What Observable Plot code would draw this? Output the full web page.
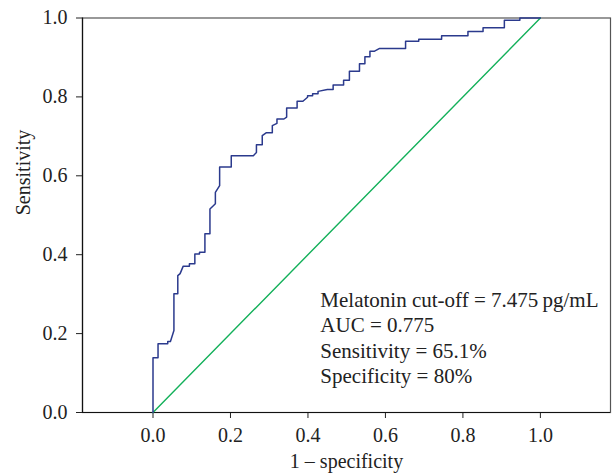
<!DOCTYPE html>
<html><head><meta charset="utf-8">
<script src="https://cdn.jsdelivr.net/npm/d3@7"></script>
<script src="https://cdn.jsdelivr.net/npm/@observablehq/plot@0.6"></script>
<style>body{margin:0;background:#fff} svg{display:block}</style>
</head><body><div id="chart"></div>
<script>
// ROC curve points (1 - specificity, sensitivity)
const fpr = [0,0,0.013,0.013,0.038,0.038,0.045,0.054,0.054,0.064,0.064,0.070,0.078,0.094,0.094,0.108,0.108,0.120,0.120,0.134,0.134,0.147,0.147,0.161,0.161,0.172,0.172,0.202,0.202,0.259,0.267,0.267,0.282,0.282,0.292,0.308,0.308,0.320,0.320,0.338,0.345,0.345,0.372,0.372,0.387,0.399,0.399,0.412,0.412,0.426,0.426,0.450,0.465,0.465,0.492,0.492,0.507,0.507,0.533,0.533,0.547,0.547,0.560,0.560,0.572,0.585,0.652,0.652,0.686,0.686,0.745,0.745,0.813,0.813,0.852,0.852,0.907,0.907,0.947,0.947,1.0];
const tpr = [0,0.139,0.139,0.174,0.174,0.180,0.180,0.208,0.301,0.301,0.347,0.352,0.371,0.371,0.377,0.377,0.402,0.402,0.406,0.406,0.453,0.453,0.516,0.529,0.558,0.575,0.622,0.622,0.651,0.651,0.659,0.679,0.679,0.702,0.709,0.709,0.727,0.733,0.744,0.744,0.749,0.772,0.772,0.789,0.789,0.799,0.803,0.803,0.808,0.808,0.814,0.819,0.819,0.830,0.830,0.842,0.842,0.865,0.865,0.884,0.884,0.902,0.902,0.916,0.916,0.923,0.923,0.941,0.941,0.946,0.946,0.955,0.955,0.966,0.966,0.975,0.975,0.994,0.994,1.0,1.0];
const refX = [0, 1];
const refY = [0, 1];
const xTicks = [0, 0.2, 0.4, 0.6, 0.8, 1.0];
const yTicks = [0, 0.2, 0.4, 0.6, 0.8, 1.0];
const xDomain = [-0.182, 1.181];
const yDomain = [0, 1];
const legendLines = ["Melatonin cut-off = 7.475\u2009pg/mL", "AUC = 0.775", "Sensitivity = 65.1%", "Specificity = 80%"];
const xLabel = "1 \u2013 specificity";
const yLabel = "Sensitivity";

const roc = fpr.map((x, i) => ({x, y: tpr[i]}));
const ref = refX.map((x, i) => ({x, y: refY[i]}));

const chart = Plot.plot({
  width: 613, height: 474,
  marginLeft: 82, marginRight: 3, marginTop: 17.5, marginBottom: 62,
  style: {fontFamily: "'Liberation Serif', 'Times New Roman', serif", fontSize: "20px", color: "#222", background: "#fff"},
  x: {domain: xDomain, ticks: xTicks, tickFormat: d3.format(".1f"), tickSize: 6, tickPadding: 9, label: null},
  y: {domain: yDomain, ticks: yTicks, tickFormat: d3.format(".1f"), tickSize: 6, tickPadding: 9, label: null},
  marks: [
    Plot.frame({stroke: "#555", strokeWidth: 1.2}),
    Plot.ruleX([xDomain[0]], {stroke: "#111", strokeWidth: 1.2}),
    Plot.ruleY([yDomain[0]], {stroke: "#111", strokeWidth: 1.2}),
    Plot.line(ref, {x: "x", y: "y", stroke: "#13b05a", strokeWidth: 1.4}),
    Plot.line(roc, {x: "x", y: "y", stroke: "#2b3a8d", strokeWidth: 1.5}),
    Plot.text([legendLines.join("\n")], {x: 0.432, y: 0.312, textAnchor: "start", lineAnchor: "top", lineHeight: 1.2, fontSize: 21, fill: "#222"}),
    Plot.text([xLabel], {frameAnchor: "bottom", dy: 55, fontSize: 20, fill: "#222"}),
    Plot.text([yLabel], {frameAnchor: "left", rotate: -90, dx: -59, fontSize: 20, fill: "#222"})
  ]
});
document.getElementById("chart").appendChild(chart);
</script>
</body></html>
